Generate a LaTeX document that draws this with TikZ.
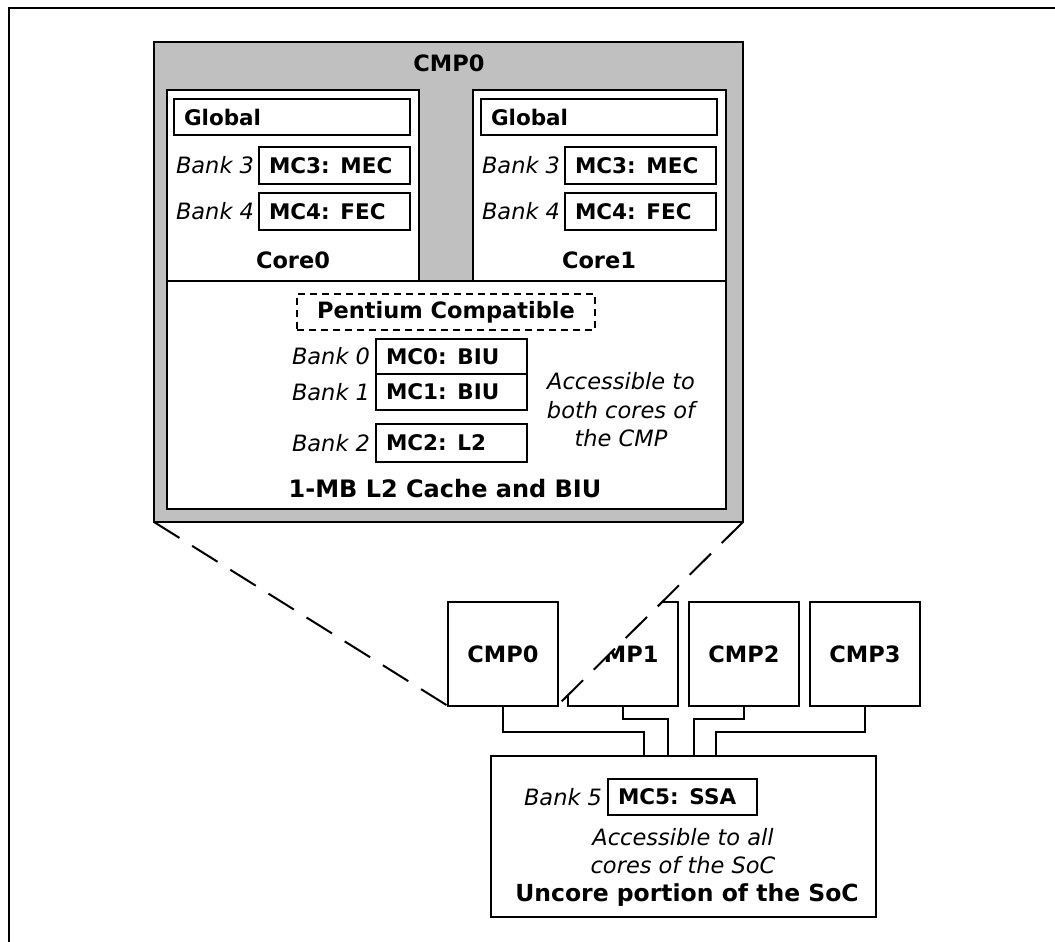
\documentclass[tikz,border=0pt]{standalone}
\usepackage{fontspec}
\setmainfont{DejaVu Sans}[BoldFont={DejaVu Sans Bold}, ItalicFont={DejaVu Sans Oblique}]
\usetikzlibrary{positioning}
\definecolor{cmpgray}{HTML}{C0C0C0}
\newcommand{\lblfont}{\fontsize{22.5}{26}\selectfont\bfseries}
\newcommand{\mcfont}{\fontsize{21.5}{26}\selectfont\bfseries}
\newcommand{\capfont}{\fontsize{23.5}{28}\selectfont\bfseries}
\newcommand{\bankfont}{\fontsize{22.5}{28.5}\selectfont\itshape}

\begin{document}
\begin{tikzpicture}[
            x=1pt, y=-1pt,
            every node/.style={inner sep=0pt, outer sep=0pt},
            bigbox/.style={draw, line width=2pt, fill=cmpgray, anchor=north west},
            panel/.style={draw, line width=1.8pt, fill=white, anchor=north west},
            mcbox/.style={draw, line width=1.2pt, fill=white, anchor=north west, minimum height=36pt, inner xsep=10pt, text width=#1, align=left, font=\mcfont},
            mcbox/.default=131pt,
            dashbox/.style={draw, line width=1.4pt, dash pattern=on 7pt off 5pt, anchor=north west, minimum width=298pt, minimum height=36pt, font=\lblfont},
            cpubox/.style={draw, line width=2pt, fill=white, anchor=north west, minimum width=110pt, minimum height=104pt, font=\lblfont},
            bank/.style={font=\bankfont},
            note/.style={align=center, font=\bankfont},
            caption/.style={font=\lblfont},
            bigcaption/.style={font=\capfont},
            zoomline/.style={line width=2pt, dash pattern=on 30pt off 15pt},
            link/.style={line width=2pt}
        ]

        \useasboundingbox (0,0) rectangle (1055,942);
        \draw[line width=1.5pt] (9,942) -- (9,8) -- (1055,8);

        \node[cpubox] (cmp1) at (568,602) {CMP1};
        \node[cpubox] (cmp2) at (689,602) {CMP2};
        \node[cpubox] (cmp3) at (810,602) {CMP3};

        \coordinate (bigsw) at (154,522);
        \coordinate (bigse) at (743,522);
        \coordinate (smallsw) at (448,706);
        \coordinate (smallse) at (557,706);
        \fill[white] (bigsw) -- (bigse) -- (smallse) -- (smallsw) -- cycle;
        \draw[zoomline] (bigsw) -- (smallsw);
        \draw[zoomline] (bigse) -- (smallse);

        \node[cpubox] (cmp0) at (448,602) {CMP0};

        \node[panel, line width=2pt, minimum width=385pt, minimum height=161pt] (uncore) at (491,756) {};
        \node[mcbox, text width=129pt] (mc5) at (608,779) {MC5: SSA};
        \node[bank, left=6pt of mc5] (bank5) {Bank 5};
        \node[note] (socnote) at (683,851) {Accessible to all\\cores of the SoC};
        \node[bigcaption] (uncorelbl) at (687,895) {Uncore portion of the SoC};

        \draw[link] (cmp0.south) -- ++(0,26) -| ([xshift=-40pt]uncore.north);
        \draw[link] (cmp1.south) -- ++(0,13) -| ([xshift=-16pt]uncore.north);
        \draw[link] (cmp2.south) -- ++(0,13) -| ([xshift=10pt]uncore.north);
        \draw[link] (cmp3.south) -- ++(0,26) -| ([xshift=32pt]uncore.north);

        \node[bigbox, minimum width=589pt, minimum height=480pt] (cmpbig) at (154,42) {};
        \node[caption] (cmptitle) at (449,63) {CMP0};
        \node[panel, minimum width=559pt, minimum height=228pt] (l2) at (167,281) {};
        \node[panel, minimum width=252pt, minimum height=191pt] (core0) at (167,90) {};
        \node[panel, minimum width=253pt, minimum height=191pt] (core1) at (473,90) {};

        \node[mcbox=216pt] (glob0) at (174,99) {Global};
        \node[mcbox, minimum height=37pt] (mc3a) at (259,147) {MC3: MEC};
        \node[mcbox, minimum height=37pt] (mc4a) at (259,193) {MC4: FEC};
        \node[bank, left=5pt of mc3a] (bank3a) {Bank 3};
        \node[bank, left=5pt of mc4a] (bank4a) {Bank 4};
        \node[caption] (core0lbl) at (293,260) {Core0};

        \node[mcbox=216pt] (glob1) at (481,99) {Global};
        \node[mcbox, minimum height=37pt] (mc3b) at (565,147) {MC3: MEC};
        \node[mcbox, minimum height=37pt] (mc4b) at (565,193) {MC4: FEC};
        \node[bank, left=5pt of mc3b] (bank3b) {Bank 3};
        \node[bank, left=5pt of mc4b] (bank4b) {Bank 4};
        \node[caption] (core1lbl) at (599,260) {Core1};

        \node[dashbox] (pentium) at (297,294) {Pentium Compatible};
        \node[mcbox, minimum height=35pt] (mc0) at (376,339) {MC0: BIU};
        \node[mcbox] (mc1) at (376,374) {MC1: BIU};
        \node[mcbox, minimum height=38pt] (mc2) at (376,424) {MC2: L2};
        \node[bank, left=6pt of mc0] (bank0) {Bank 0};
        \node[bank, left=6pt of mc1] (bank1) {Bank 1};
        \node[bank, left=6pt of mc2] (bank2) {Bank 2};
        \node[note] (cmpnote) at (621,410) {Accessible to\\both cores of\\the CMP};
        \node[bigcaption, font=\fontsize{24}{28}\selectfont\bfseries] (l2lbl) at (445,489) {1-MB L2 Cache and BIU};

    \end{tikzpicture}
\end{document}
